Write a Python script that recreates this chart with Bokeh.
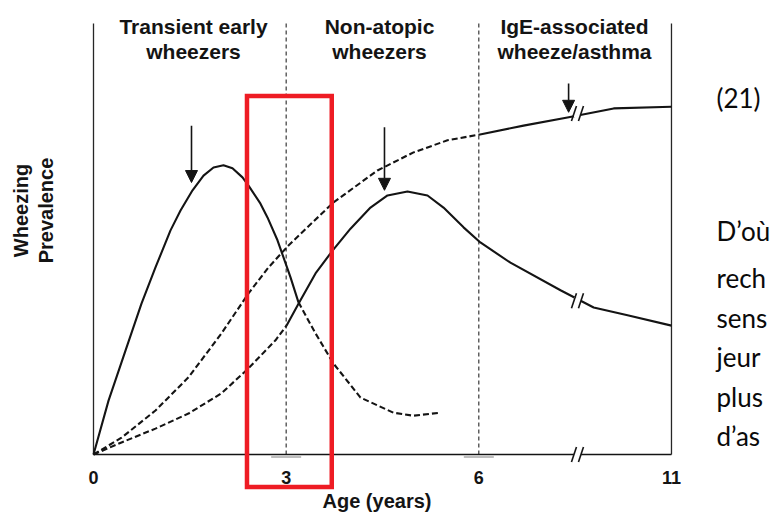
import numpy as np
from bokeh.plotting import figure
from bokeh.models import ColumnDataSource, Range1d, Arrow, NormalHead
from bokeh.core.properties import value
from bokeh.embed import file_html
from bokeh.resources import INLINE

# ------------------------------------------------------------------ data
phase_bounds = [0, 3, 6, 11]            # ages (years) of the vertical boundaries
tick_ages = [0, 3, 6, 11]
tick_labels = ["0", "3", "6", "11"]
phase_line1 = ["Transient early", "Non-atopic", "IgE-associated"]
phase_line2 = ["wheezers", "wheezers", "wheeze/asthma"]

# Transient early wheezers (solid up to split age, dashed after)
transient_age = [0, 0.234, 0.498, 0.747, 0.965, 1.199, 1.355, 1.542, 1.713, 1.869,
                 2.024, 2.164, 2.320, 2.414, 2.600, 2.709, 2.865, 3.068, 3.192, 3.457,
                 3.737, 4.158, 4.671, 4.983, 5.403]
transient_val = [0, 12.5, 24.1, 35.0, 43.4, 52.0, 56.6, 61.3, 64.7, 66.6,
                 67.1, 66.4, 64.3, 62.4, 58.2, 55.0, 49.7, 41.1, 35.3, 28.1,
                 21.1, 13.2, 9.7, 9.0, 9.7]
transient_split = 3.192

# Non-atopic wheezers (dashed up to split age, solid after)
nonatopic_age = [0, 0.436, 0.965, 1.479, 1.993, 2.414, 2.834, 3.005, 3.192, 3.457,
                 3.722, 4.002, 4.313, 4.578, 4.889, 5.201, 5.450, 5.762, 6.04, 6.82,
                 8.12, 8.98, 9.86, 11]
nonatopic_val = [0, 2.8, 6.0, 9.5, 14.2, 20.0, 26.5, 29.9, 35.0, 42.0,
                 47.3, 52.4, 57.3, 60.1, 61.0, 60.1, 57.3, 52.7, 49.2, 44.5,
                 38.1, 34.1, 32.3, 29.9]
nonatopic_split = 3.005

# IgE-associated wheeze/asthma (dashed up to split age, solid after)
ige_age = [0, 0.436, 0.965, 1.479, 1.993, 2.414, 2.725, 3.036, 3.737, 4.422,
           4.983, 5.512, 6.0, 7.16, 8.30, 9.50, 11]
ige_val = [0, 3.9, 10.2, 17.9, 28.1, 37.4, 43.4, 48.5, 58.5, 65.9,
           70.1, 72.9, 74.2, 76.3, 78.2, 80.3, 80.7]
ige_split = 6.0

# peak arrows
arrow_age = [1.526, 4.531, 8.33]
arrow_from = [76.3, 75.9, 86.1]
arrow_to = [63.1, 61.3, 79.4]

# axis break ("//")
break_age = 8.56
break_vals = [79.1, 35.7, 0.0]

# highlighted age window (red box)
highlight_ages = [2.39, 3.71]
highlight_vals = [-7.54, 83.18]

side_text = ["(21)", "D\u2019o\u00f9", "rech", "sens", "jeur", "plus", "d\u2019as"]

# ------------------------------------------------------------------ layout helpers
W, H = 771, 513
PPY = 64.22      # px per displayed year
PPU = 4.31       # px per prevalence unit
X0, Y0 = 93, 454  # pixel position of the origin


def fx(px):
    return (px - X0) / PPY


def fy(py):
    return (Y0 - py) / PPU


def disp(age):
    a = np.asarray(age, dtype=float)
    return np.where(a <= 6, a, 6 + (a - 6) * (9 - 6) / (11 - 6))


p = figure(width=W, height=H, output_backend="svg", toolbar_location=None,
           x_range=Range1d(fx(0), fx(W)), y_range=Range1d(fy(H), fy(0)),
           x_axis_location=None, y_axis_location=None, min_border=0,
           background_fill_color="white", border_fill_color="white")
p.outline_line_color = None
p.grid.visible = False

INK = "#141414"
FONT = value("Liberation Sans")

# vertical boundaries
pb = np.array(phase_bounds, dtype=float)
p.segment(x0=disp(pb[[0, -1]]), y0=[0, 0], x1=disp(pb[[0, -1]]), y1=[100, 100],
          line_color="#262626", line_width=1.3)
p.segment(x0=disp(pb[1:-1]), y0=[0, 0], x1=disp(pb[1:-1]), y1=[100, 100],
          line_color="#262626", line_width=1.1, line_dash="4 3")

# faint tick marks under the baseline
ta = np.array(tick_ages[1:-1], dtype=float)
p.segment(x0=disp(ta) - 15 / PPY, y0=[fy(456.5)] * len(ta), x1=disp(ta) + 15 / PPY,
          y1=[fy(456.5)] * len(ta), line_color="#a8a8a8", line_width=1.5)

# baseline
p.line(x=disp([phase_bounds[0], phase_bounds[-1]]), y=[0, 0], line_color=INK, line_width=1.6)


def draw_curve(age, val, split, first_dashed):
    a = np.array(age, dtype=float)
    v = np.array(val, dtype=float)
    m1 = a <= split + 1e-9
    m2 = a >= split - 1e-9
    d1 = "6 3" if first_dashed else "solid"
    d2 = "solid" if first_dashed else "6 3"
    p.line(x=disp(a[m1]), y=v[m1], line_color=INK, line_width=2.1, line_dash=d1,
           line_join="round")
    p.line(x=disp(a[m2]), y=v[m2], line_color=INK, line_width=2.1, line_dash=d2,
           line_join="round")


draw_curve(transient_age, transient_val, transient_split, first_dashed=False)
draw_curve(nonatopic_age, nonatopic_val, nonatopic_split, first_dashed=True)
draw_curve(ige_age, ige_val, ige_split, first_dashed=True)

# axis breaks
bx = float(disp(break_age))
bv = np.array(break_vals)
p.scatter(x=[bx] * len(bv), y=bv, marker="square", size=7, fill_color="white", line_color=None)
for s in (-1, 1):
    cx = bx + s * 3.5 / PPY
    p.segment(x0=[cx - 2.5 / PPY] * len(bv), y0=bv - 7.5 / PPU,
              x1=[cx + 2.5 / PPY] * len(bv), y1=bv + 7.5 / PPU,
              line_color=INK, line_width=1.6)

# arrows
asrc = ColumnDataSource(dict(x=disp(arrow_age), y0=arrow_from, y1=arrow_to))
p.add_layout(Arrow(end=NormalHead(size=12, fill_color=INK, line_color=INK, line_width=1),
                   x_start="x", y_start="y0", x_end="x", y_end="y1", source=asrc,
                   line_color=INK, line_width=1.6))

# highlight box
p.quad(left=[float(disp(highlight_ages[0]))], right=[float(disp(highlight_ages[1]))],
       bottom=[highlight_vals[0]], top=[highlight_vals[1]],
       fill_color=None, line_color="#ee1c24", line_width=4.5, line_join="miter")

# phase titles
hx = [fx(193), fx(379), fx(574)]
p.text(x=hx, y=[fy(25.5)] * 3, text=phase_line1, text_font=FONT, text_font_style="bold",
       text_font_size="21px", text_align="center", text_baseline="middle", text_color=INK)
p.text(x=hx, y=[fy(50.5)] * 3, text=phase_line2, text_font=FONT, text_font_style="bold",
       text_font_size="21px", text_align="center", text_baseline="middle", text_color=INK)

# y label
p.text(x=[fx(20), fx(45)], y=[fy(210)] * 2, text=["Wheezing", "Prevalence"], angle=np.pi / 2,
       text_font=FONT, text_font_style="bold", text_font_size="20px", text_align="center",
       text_baseline="middle", text_color=INK)

# tick labels
p.text(x=disp(tick_ages), y=[fy(476.5)] * len(tick_ages), text=tick_labels, text_font=FONT,
       text_font_style="bold", text_font_size="18px", text_align="center",
       text_baseline="middle", text_color=INK)

# x label
p.text(x=[fx(376.5)], y=[fy(500)], text=["Age (years)"], text_font=FONT, text_font_style="bold",
       text_font_size="20px", text_align="center", text_baseline="middle", text_color=INK)

# side text (slide body)
side_y = [97, 230, 277, 317, 356, 396, 435]
p.text(x=[fx(716)] * len(side_text), y=[fy(v) for v in side_y], text=side_text,
       text_font=value("Lato"), text_font_size="26px", text_align="left",
       text_baseline="middle", text_color="#0a0a0a")

open("out.html", "w").write(file_html(p, INLINE))
